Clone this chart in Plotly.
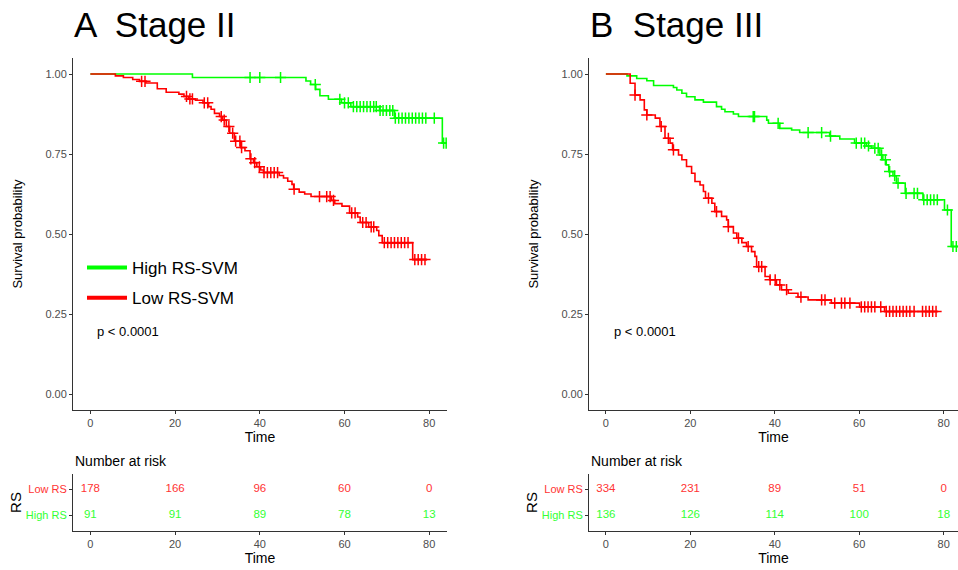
import numpy as np
import plotly.graph_objects as go

# ---------------- data ----------------
risk_times = [0, 20, 40, 60, 80]
x_ticks = [0, 20, 40, 60, 80]
y_ticks = [0.0, 0.25, 0.5, 0.75, 1.0]
y_ticklabels = ["0.00", "0.25", "0.50", "0.75", "1.00"]

# Stage II - High RS-SVM
s2_high_t = [0, 24.1, 50.9, 52.0, 53.2, 54.2, 56.2, 59.3, 61.5, 68.3, 71.8, 83.1]
s2_high_s = [1.0, 0.989, 0.978, 0.967, 0.952, 0.932, 0.921, 0.910, 0.898, 0.886, 0.862, 0.784]
s2_high_end = 84.0
s2_high_cens = [37.7, 40.0, 44.9, 53.1, 58.9, 60.0, 60.9, 62.1, 62.9, 63.7, 64.5, 65.3, 66.1,
                66.9, 67.5, 68.4, 69.1, 69.9, 70.7, 71.4, 72.0, 72.8, 73.6, 74.4, 75.2, 76.0,
                76.8, 77.6, 78.4, 79.2, 81.2, 83.4, 84.0]

# Stage II - Low RS-SVM
s2_low_t = [0, 5.9, 7.8, 10.0, 11.6, 13.1, 15.8, 17.9, 20.9, 22.1, 23.2, 24.8, 26.6, 27.9, 28.5,
            29.3, 30.5, 31.2, 32.1, 32.9, 34.0, 35.5, 36.5, 37.7, 38.5, 39.3, 40.2, 40.9, 44.6,
            45.6, 46.6, 47.6, 48.0, 49.3, 50.6, 52.1, 56.9, 57.7, 59.4, 61.2, 63.1, 63.7, 65.7,
            67.6, 68.1, 68.9, 76.1]
s2_low_s = [1.0, 0.994, 0.989, 0.983, 0.977, 0.972, 0.954, 0.943, 0.937, 0.930, 0.922, 0.918,
            0.910, 0.898, 0.890, 0.877, 0.867, 0.856, 0.836, 0.815, 0.790, 0.770, 0.760, 0.735,
            0.723, 0.710, 0.700, 0.692, 0.683, 0.675, 0.665, 0.655, 0.640, 0.631, 0.625, 0.617,
            0.605, 0.595, 0.587, 0.566, 0.553, 0.536, 0.522, 0.511, 0.495, 0.473, 0.420]
s2_low_end = 79.5
s2_low_cens = [12.1, 12.9, 22.7, 23.5, 24.1, 26.9, 27.7, 30.9, 31.6, 32.7, 33.6, 34.3, 35.3,
               35.7, 37.9, 38.8, 39.9, 41.0, 41.8, 42.6, 43.4, 44.2, 48.1, 54.1, 55.8, 56.6,
               57.4, 61.7, 62.5, 64.3, 65.1, 66.3, 66.9, 69.4, 70.2, 71.0, 71.8, 72.6, 73.4,
               74.2, 75.0, 76.6, 77.4, 78.2, 79.0]

# Stage III - High RS-SVM
s3_high_t = [0, 5.0, 7.3, 9.7, 11.3, 16.0, 16.8, 18.0, 19.1, 21.1, 23.1, 26.2, 27.4, 28.2, 30.2,
             31.4, 38.1, 38.5, 41.2, 44.0, 45.9, 53.0, 55.4, 58.9, 61.7, 62.9, 64.9, 65.6, 66.4,
             67.0, 68.0, 68.8, 70.9, 75.1, 80.2, 81.8]
s3_high_s = [1.0, 0.994, 0.986, 0.979, 0.964, 0.958, 0.950, 0.940, 0.929, 0.919, 0.912, 0.898,
             0.890, 0.882, 0.875, 0.867, 0.856, 0.846, 0.830, 0.825, 0.817, 0.806, 0.797, 0.784,
             0.775, 0.768, 0.747, 0.732, 0.716, 0.695, 0.682, 0.659, 0.627, 0.607, 0.575, 0.461]
s3_high_end = 83.4
s3_high_cens = [34.9, 35.2, 40.8, 47.9, 51.1, 53.2, 59.3, 60.5, 61.3, 62.2, 63.7, 64.5, 65.3,
                66.2, 67.2, 68.4, 69.2, 71.1, 73.0, 73.8, 75.3, 76.1, 76.9, 77.7, 78.5, 80.9,
                82.2, 83.0]

# Stage III - Low RS-SVM
s3_low_t = [0, 5.75, 6.9, 8.1, 9.1, 9.7, 11.7, 12.8, 14.0, 15.2, 15.8, 17.2, 18.0, 19.1, 20.3,
            21.1, 22.3, 23.1, 23.6, 25.1, 25.8, 27.4, 28.6, 29.0, 30.2, 31.0, 32.2, 33.3, 34.5,
            35.3, 35.7, 37.7, 38.8, 40.4, 41.6, 43.2, 45.5, 47.9, 53.4, 60.1, 66.0]
s3_low_s = [1.0, 0.971, 0.934, 0.919, 0.888, 0.872, 0.862, 0.836, 0.799, 0.784, 0.763, 0.747,
            0.732, 0.711, 0.690, 0.664, 0.653, 0.633, 0.612, 0.596, 0.570, 0.555, 0.544, 0.523,
            0.503, 0.487, 0.473, 0.461, 0.445, 0.430, 0.398, 0.367, 0.357, 0.341, 0.326, 0.315,
            0.303, 0.294, 0.284, 0.272, 0.258]
s3_low_end = 78.6
s3_low_cens = [6.9, 9.7, 13.1, 14.8, 16.0, 24.3, 26.2, 29.0, 31.4, 33.7, 36.2, 36.9, 38.9, 40.1,
               41.2, 42.8, 46.2, 51.1, 51.9, 54.2, 55.8, 56.6, 57.8, 60.5, 61.3, 62.1, 62.9,
               63.7, 65.1, 66.4, 67.2, 68.0, 68.8, 69.6, 70.4, 71.2, 72.0, 73.0, 75.0, 75.8,
               76.6, 77.4, 78.2]

# Numbers at risk
s2_risk_low = [178, 166, 96, 60, 0]
s2_risk_high = [91, 91, 89, 78, 13]
s3_risk_low = [334, 231, 89, 51, 0]
s3_risk_high = [136, 126, 114, 100, 18]

GREEN = "#00FF00"
RED = "#FF0000"
RISK_RED = "#FF3333"
RISK_GREEN = "#33FF33"
FONT = "Arial, Liberation Sans, sans-serif"
W, H = 958, 570

def px_x(a, b):
    return [a / W, b / W]

def px_y(top, bottom):
    return [1 - bottom / H, 1 - top / H]

def step_lookup(t_steps, s_steps, t):
    idx = np.searchsorted(np.array(t_steps), np.array(t), side="right") - 1
    return list(np.array(s_steps)[idx])

fig = go.Figure()

def add_curve(t, s, end, cens, color, xa, ya):
    xs = list(t) + [end]
    ys = list(s) + [s[-1]]
    fig.add_trace(go.Scatter(x=xs, y=ys, mode="lines", line=dict(color=color, width=1.6, shape="hv"),
                             xaxis=xa, yaxis=ya, showlegend=False, hoverinfo="skip"))
    fig.add_trace(go.Scatter(x=cens, y=step_lookup(t, s, cens), mode="markers",
                             marker=dict(symbol="cross-thin", size=8, line=dict(color=color, width=1.5)),
                             xaxis=xa, yaxis=ya, showlegend=False, hoverinfo="skip"))

add_curve(s2_high_t, s2_high_s, s2_high_end, s2_high_cens, GREEN, "x", "y")
add_curve(s2_low_t, s2_low_s, s2_low_end, s2_low_cens, RED, "x", "y")
add_curve(s3_high_t, s3_high_s, s3_high_end, s3_high_cens, GREEN, "x2", "y2")
add_curve(s3_low_t, s3_low_s, s3_low_end, s3_low_cens, RED, "x2", "y2")

# legend-only entries
fig.add_trace(go.Scatter(x=[None], y=[None], mode="lines", line=dict(color=GREEN, width=4),
                         name="High RS-SVM", legendgroup="high", xaxis="x", yaxis="y"))
fig.add_trace(go.Scatter(x=[None], y=[None], mode="lines", line=dict(color=RED, width=4),
                         name="Low RS-SVM", legendgroup="low", xaxis="x", yaxis="y"))

# risk tables
for xa, ya, low, high in [("x3", "y3", s2_risk_low, s2_risk_high), ("x4", "y4", s3_risk_low, s3_risk_high)]:
    fig.add_trace(go.Scatter(x=risk_times, y=[2] * len(risk_times), mode="text",
                             text=[str(v) for v in low], textfont=dict(color=RISK_RED, size=11.5, family=FONT),
                             xaxis=xa, yaxis=ya, showlegend=False, hoverinfo="skip"))
    fig.add_trace(go.Scatter(x=risk_times, y=[1] * len(risk_times), mode="text",
                             text=[str(v) for v in high], textfont=dict(color=RISK_GREEN, size=11.5, family=FONT),
                             xaxis=xa, yaxis=ya, showlegend=False, hoverinfo="skip"))

AX = dict(showline=True, linecolor="#333333", linewidth=1, ticks="outside", ticklen=3,
          tickcolor="#333333", showgrid=False, zeroline=False,
          tickfont=dict(size=11, color="#4D4D4D", family=FONT))
TITLE_FONT = dict(size=14, color="black", family=FONT)

km_y = px_y(58, 410)
tab_y = px_y(474, 531)
left_x = px_x(73, 447)
right_x = px_x(589, 958)

fig.update_layout(
    width=W, height=H, margin=dict(l=0, r=0, t=0, b=0),
    paper_bgcolor="white", plot_bgcolor="white",
    font=dict(family=FONT),
    xaxis=dict(domain=left_x, range=[-4.1, 84.2], tickvals=x_ticks, anchor="y",
               title=dict(text="Time", font=TITLE_FONT, standoff=2), **AX),
    yaxis=dict(domain=km_y, range=[-0.05, 1.05], tickvals=y_ticks, ticktext=y_ticklabels, anchor="x",
               title=dict(text="Survival probability", font=dict(size=13, color="black", family=FONT), standoff=19), **AX),
    xaxis2=dict(domain=right_x, range=[-4.0, 83.4], tickvals=x_ticks, anchor="y2",
                title=dict(text="Time", font=TITLE_FONT, standoff=2), **AX),
    yaxis2=dict(domain=km_y, range=[-0.05, 1.05], tickvals=y_ticks, ticktext=y_ticklabels, anchor="x2",
                title=dict(text="Survival probability", font=dict(size=13, color="black", family=FONT), standoff=19), **AX),
    xaxis3=dict(domain=left_x, range=[-4.1, 84.2], tickvals=x_ticks, anchor="y3",
                title=dict(text="Time", font=TITLE_FONT, standoff=2), **AX),
    yaxis3=dict(domain=tab_y, range=[0.4, 2.6], tickvals=[1, 2],
                ticktext=[f'<span style="color:{RISK_GREEN}">High RS</span>', f'<span style="color:{RISK_RED}">Low RS</span>'],
                anchor="x3", title=dict(text="RS", font=dict(size=15, color="black", family=FONT), standoff=0), **AX),
    xaxis4=dict(domain=right_x, range=[-4.0, 83.4], tickvals=x_ticks, anchor="y4",
                title=dict(text="Time", font=TITLE_FONT, standoff=2), **AX),
    yaxis4=dict(domain=tab_y, range=[0.4, 2.6], tickvals=[1, 2],
                ticktext=[f'<span style="color:{RISK_GREEN}">High RS</span>', f'<span style="color:{RISK_RED}">Low RS</span>'],
                anchor="x4", title=dict(text="RS", font=dict(size=15, color="black", family=FONT), standoff=0), **AX),
    legend=dict(x=82 / W, y=1 - 250 / H, xanchor="left", yanchor="top", bgcolor="rgba(0,0,0,0)",
                font=dict(size=17, color="black", family=FONT), itemwidth=40, tracegroupgap=5),
    showlegend=True,
)

annotations = [
    dict(text="A  Stage II", x=72 / W, y=1 - 24 / H, xref="paper", yref="paper", xanchor="left", yanchor="middle",
         showarrow=False, font=dict(size=35, color="black", family=FONT)),
    dict(text="B  Stage III", x=588 / W, y=1 - 24 / H, xref="paper", yref="paper", xanchor="left", yanchor="middle",
         showarrow=False, font=dict(size=35, color="black", family=FONT)),
    dict(text="Number at risk", x=73 / W, y=1 - 461 / H, xref="paper", yref="paper", xanchor="left", yanchor="middle",
         showarrow=False, font=dict(size=14, color="black", family=FONT)),
    dict(text="Number at risk", x=589 / W, y=1 - 461 / H, xref="paper", yref="paper", xanchor="left", yanchor="middle",
         showarrow=False, font=dict(size=14, color="black", family=FONT)),
    dict(text="p < 0.0001", x=1.2, y=0.194, xref="x", yref="y", xanchor="left", yanchor="middle",
         showarrow=False, font=dict(size=13, color="black", family=FONT)),
    dict(text="p < 0.0001", x=1.4, y=0.194, xref="x2", yref="y2", xanchor="left", yanchor="middle",
         showarrow=False, font=dict(size=13, color="black", family=FONT)),
]
fig.update_layout(annotations=annotations)

fig.write_html("out.html", config={"displayModeBar": False},
               post_script="document.body.style.margin='0';")
